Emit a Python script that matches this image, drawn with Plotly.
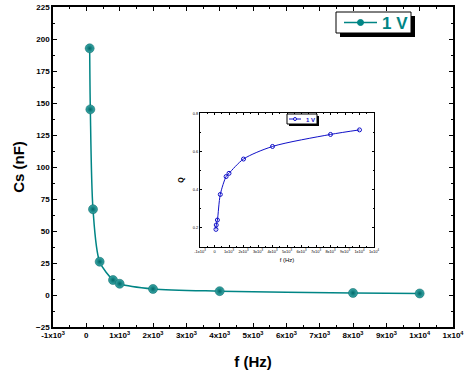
import plotly.graph_objects as go

# Main data
freq = [100, 120, 200, 400, 800, 1000, 2000, 4000, 8000, 10000]
cs_nF = [192.7, 145, 67, 26, 11.7, 8.8, 4.7, 3.0, 1.6, 1.2]
# Inset data
q_vals = [0.191, 0.214, 0.240, 0.374, 0.468, 0.485, 0.560, 0.626, 0.689, 0.713]

x_tickvals = [-1000, 0, 1000, 2000, 3000, 4000, 5000, 6000, 7000, 8000, 9000, 10000, 11000]
x_ticktext = ["-1x10<sup>3</sup>", "0", "1x10<sup>3</sup>", "2x10<sup>3</sup>", "3x10<sup>3</sup>",
              "4x10<sup>3</sup>", "5x10<sup>3</sup>", "6x10<sup>3</sup>", "7x10<sup>3</sup>",
              "8x10<sup>3</sup>", "9x10<sup>3</sup>", "1x10<sup>4</sup>", "1x10<sup>4</sup>"]
q_tickvals = [0.2, 0.4, 0.6, 0.8]
q_ticktext = ["0.2", "0.4", "0.6", "0.8"]
legend_label = "1 V"

FONT = "Arial, Liberation Sans, sans-serif"
TEAL = "#008585"
BLUE = "#1010c8"

fig = go.Figure()
fig.add_trace(go.Scatter(
    x=freq, y=cs_nF, mode="lines+markers", name=legend_label,
    line=dict(color=TEAL, width=1.5, shape="spline", smoothing=0.8),
    marker=dict(size=9, color="#3aa8a8", line=dict(width=0.5, color="#006060"),
                gradient=dict(type="radial", color="#006868")),
    showlegend=False, xaxis="x", yaxis="y"))
fig.add_trace(go.Scatter(
    x=freq, y=q_vals, mode="lines+markers", name=legend_label,
    line=dict(color=BLUE, width=1, shape="spline", smoothing=0.8),
    marker=dict(size=4, symbol="circle-open", color=BLUE, line=dict(width=1)),
    showlegend=False, xaxis="x2", yaxis="y2"))

W, H = 465, 376
L, R, T, B = 53, 12, 7, 49
pw, ph = W - L - R, H - T - B
def px(x):
    return (x - L) / pw
def py(y):
    return (H - B - y) / ph

fig.update_layout(
    width=W, height=H,
    margin=dict(l=L, r=R, t=T, b=B),
    paper_bgcolor="white", plot_bgcolor="white",
    font=dict(family=FONT, color="black"),
    showlegend=False,
    xaxis=dict(range=[-1000, 11000], tickvals=x_tickvals, ticktext=x_ticktext, automargin=False,
               ticks="inside", ticklen=4, tickwidth=1, tickcolor="black",
               showline=True, linecolor="black", linewidth=1.5, mirror="allticks",
               showgrid=False, zeroline=False,
               tickfont=dict(size=8, family=FONT, weight="bold"),
               minor=dict(tickvals=[v + 500 for v in x_tickvals[:-1]], ticks="inside", ticklen=2, tickcolor="black"),
               title=dict(text="<b>f (Hz)</b>", font=dict(size=15, family=FONT), standoff=17)),
    yaxis=dict(range=[-25, 225], tickvals=list(range(-25, 226, 25)), automargin=False,
               ticks="inside", ticklen=4, tickwidth=1, tickcolor="black",
               showline=True, linecolor="black", linewidth=1.5, mirror="allticks",
               showgrid=False, zeroline=False,
               tickfont=dict(size=8, family=FONT, weight="bold"),
               minor=dict(dtick=12.5, tick0=-25, ticks="inside", ticklen=2, tickcolor="black"),
               title=dict(text="<b>Cs (nF)</b>", font=dict(size=15, family=FONT), standoff=8)),
    xaxis2=dict(domain=[px(200), px(374)], anchor="y2", range=[-1000, 11000], automargin=False,
                tickvals=x_tickvals, ticktext=x_ticktext,
                ticks="inside", ticklen=2, tickwidth=0.8, tickcolor="black",
                showline=True, linecolor="black", linewidth=1, mirror="allticks",
                showgrid=False, zeroline=False,
                tickfont=dict(size=4, family=FONT),
                minor=dict(tickvals=[v + 500 for v in x_tickvals[:-1]], ticks="inside", ticklen=1, tickcolor="black"),
                title=dict(text="f (Hz)", font=dict(size=6, family=FONT), standoff=5)),
    yaxis2=dict(domain=[py(246.7), py(113.3)], anchor="x2", range=[0.1, 0.8], automargin=False,
                tickvals=q_tickvals, ticktext=q_ticktext,
                ticks="inside", ticklen=2, tickwidth=0.8, tickcolor="black",
                showline=True, linecolor="black", linewidth=1, mirror="allticks",
                showgrid=False, zeroline=False,
                tickfont=dict(size=4, family=FONT),
                minor=dict(dtick=0.1, tick0=0.1, ticks="inside", ticklen=1, tickcolor="black"),
                title=dict(text="<b>Q</b>", font=dict(size=7, family=FONT), standoff=8)),
)

def legend_box(x0, y0, x1, y1, shadow, line_x0, line_x1, mk_r, color, mk_fill, text, fsize, lw):
    ym = (y0 + y1) / 2
    fig.add_shape(type="rect", xref="paper", yref="paper",
                  x0=px(x0 + shadow), x1=px(x1 + shadow), y0=py(y1 + shadow), y1=py(y0 + shadow),
                  fillcolor="black", line=dict(width=0), layer="above")
    fig.add_shape(type="rect", xref="paper", yref="paper",
                  x0=px(x0), x1=px(x1), y0=py(y1), y1=py(y0),
                  fillcolor="white", line=dict(width=1, color="black"), layer="above")
    fig.add_shape(type="line", xref="paper", yref="paper",
                  x0=px(line_x0), x1=px(line_x1), y0=py(ym), y1=py(ym),
                  line=dict(width=lw, color=color), layer="above")
    xc = (line_x0 + line_x1) / 2
    fig.add_shape(type="circle", xref="paper", yref="paper",
                  x0=px(xc - mk_r), x1=px(xc + mk_r), y0=py(ym + mk_r), y1=py(ym - mk_r),
                  fillcolor=mk_fill, line=dict(width=1, color=color), layer="above")
    fig.add_annotation(xref="paper", yref="paper", x=px(line_x1 + 3), y=py(ym + 0.5),
                       xanchor="left", yanchor="middle", text="<b>" + text + "</b>",
                       showarrow=False, font=dict(size=fsize, color=color, family=FONT))

# main legend
legend_box(336, 12, 411, 33, 4, 344, 377, 3, TEAL, TEAL, legend_label, 17, 1.5)
# inset legend
legend_box(287, 114, 317, 124, 2, 289, 301, 1.5, BLUE, "white", legend_label, 6, 1)

fig.write_html("out.html", config={"displayModeBar": False},
               post_script="document.body.style.margin='0';")
